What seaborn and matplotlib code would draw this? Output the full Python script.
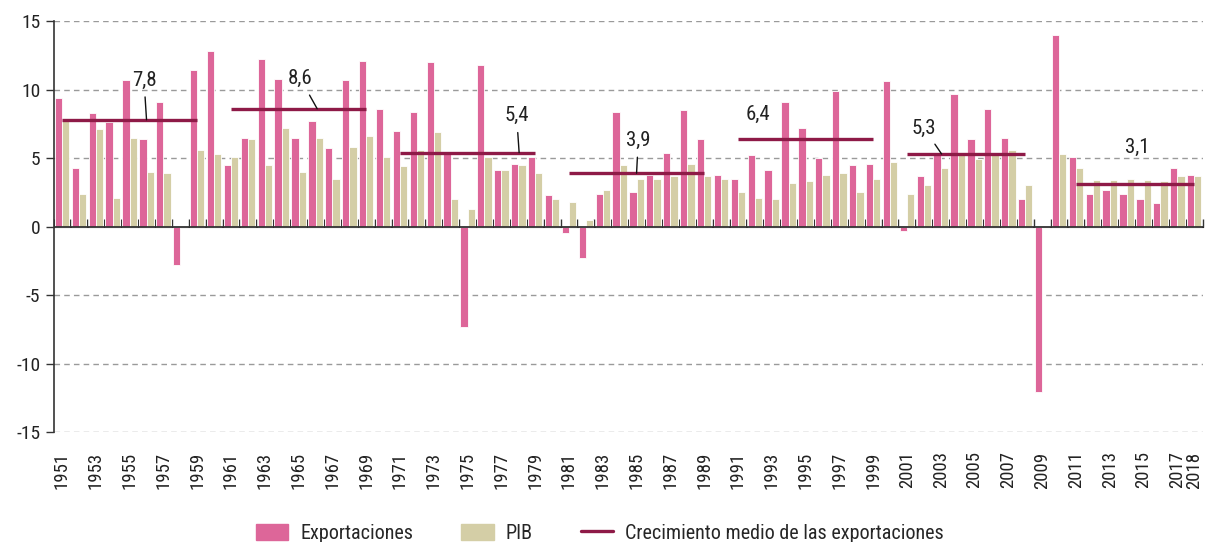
import numpy as np
import pandas as pd
import matplotlib
matplotlib.use("Agg")
import matplotlib.pyplot as plt
import seaborn as sns
from matplotlib import font_manager
from matplotlib.patches import Patch
from matplotlib.lines import Line2D

# data
years = list(range(1951, 2019))
exportaciones = [
    9.4, 4.3, 8.3, 7.6, 10.7, 6.4, 9.1, -2.8, 11.4, 12.8,   # 1951-1960
    4.5, 6.5, 12.2, 10.8, 6.5, 7.7, 5.7, 10.7, 12.1, 8.6,   # 1961-1970
    7.0, 8.4, 12.0, 5.3, -7.3, 11.8, 4.1, 4.6, 5.1, 2.3,    # 1971-1980
    -0.5, -2.3, 2.4, 8.4, 2.5, 3.8, 5.4, 8.5, 6.4, 3.8,     # 1981-1990
    3.5, 5.2, 4.1, 9.1, 7.2, 5.0, 9.9, 4.5, 4.6, 10.6,      # 1991-2000
    -0.3, 3.7, 5.2, 9.7, 6.4, 8.6, 6.5, 2.0, -12.1, 14.0,   # 2001-2010
    5.1, 2.4, 2.7, 2.4, 2.0, 1.7, 4.3, 3.8,                 # 2011-2018
]
pib = [
    7.7, 2.4, 7.1, 2.1, 6.5, 4.0, 3.9, 0.0, 5.6, 5.3,
    5.1, 6.4, 4.5, 7.2, 4.0, 6.5, 3.5, 5.8, 6.6, 5.1,
    4.4, 5.6, 6.9, 2.0, 1.3, 5.1, 4.1, 4.5, 3.9, 2.0,
    1.8, 0.5, 2.7, 4.5, 3.5, 3.5, 3.7, 4.6, 3.7, 3.5,
    2.5, 2.1, 2.0, 3.2, 3.3, 3.8, 3.9, 2.5, 3.5, 4.7,
    2.4, 3.0, 4.3, 5.3, 4.9, 5.4, 5.6, 3.0, -0.1, 5.3,
    4.3, 3.4, 3.4, 3.5, 3.4, 3.3, 3.7, 3.7,
]
periodo_inicio = [1951, 1961, 1971, 1981, 1991, 2001, 2011]
periodo_fin = [1959, 1969, 1979, 1989, 1999, 2008, 2018]
crecimiento_medio = [7.8, 8.6, 5.4, 3.9, 6.4, 5.3, 3.1]
etiquetas_medias = ["7,8", "8,6", "5,4", "3,9", "6,4", "5,3", "3,1"]

# label placement (text position, leader end) in axis units
label_pos = [(4.85, 10.7), (14.1, 10.8), (26.9, 8.1), (34.1, 6.3),
             (41.2, 8.2), (51.0, 7.2), (63.6, 5.8)]
leader_end = [(5.0, 7.8), (15.1, 8.6), (27.05, 5.4), (34.0, 3.9),
              None, (52.05, 5.3), None]

PINK = "#DD6699"
KHAKI = "#D4CEA6"
WINE = "#8E1A47"

sns.set_style("white")
available = {f.name for f in font_manager.fontManager.ttflist}
fam = [f for f in ["Liberation Sans Narrow", "Roboto Condensed", "Roboto"] if f in available]
plt.rcParams["font.family"] = fam + ["DejaVu Sans"]
plt.rcParams["font.size"] = 13

df = pd.DataFrame({
    "year": [str(y) for y in years] * 2,
    "valor": exportaciones + pib,
    "serie": ["Exportaciones"] * len(years) + ["PIB"] * len(years),
})

fig = plt.figure(figsize=(12.07, 5.42), dpi=100)
ax = fig.add_axes([0.0444, 0.203, 0.952, 0.758])

sns.barplot(data=df, x="year", y="valor", hue="serie", order=[str(y) for y in years],
            palette={"Exportaciones": PINK, "PIB": KHAKI}, saturation=1, width=0.86,
            edgecolor="white", linewidth=0.6, errorbar=None, legend=False, ax=ax)

ax.set_ylim(-15, 15)
ax.set_xlim(-0.5, len(years) - 0.5)
ax.set_yticks([-15, -10, -5, 0, 5, 10, 15])
ax.set_yticklabels(["-15", "-10", "-5", "0", "5", "10", "15"])
for v in [-15, -10, -5, 5, 10, 15]:
    ax.axhline(v, color="#9a9a9a", lw=1, ls=(0, (4, 3)), zorder=0)
ax.axhline(0, color="#333333", lw=1.3, zorder=3)

# average growth by decade
xs = [years.index(y) for y in periodo_inicio]
xe = [years.index(y) for y in periodo_fin]
ax.hlines(crecimiento_medio, xs, xe, color=WINE, lw=2.4, zorder=4)
for lab, (tx, ty), end in zip(etiquetas_medias, label_pos, leader_end):
    if end is None:
        ax.text(tx, ty, lab, ha="center", va="center", fontsize=15, color="#222222", zorder=5)
    else:
        ax.annotate(lab, xy=end, xytext=(tx, ty), ha="center", va="center",
                    fontsize=15, color="#222222", zorder=5,
                    arrowprops=dict(arrowstyle="-", color="#111111", lw=1,
                                    shrinkA=3, shrinkB=0))

# x labels: odd years plus last year
ticks = [i for i, y in enumerate(years) if y % 2 == 1] + [len(years) - 1]
ax.set_xticks(ticks)
ax.set_xticklabels([str(years[i]) for i in ticks], rotation=90)
ax.tick_params(axis="x", length=0, pad=14, labelsize=13.5, colors="#222222")
ax.tick_params(axis="y", length=6, width=1, color="#333333", labelsize=14,
               labelcolor="#222222", direction="out", left=True)
ax.set_xlabel("")
ax.set_ylabel("")
for s in ["top", "right", "bottom"]:
    ax.spines[s].set_visible(False)
ax.spines["left"].set_color("#333333")
ax.spines["left"].set_linewidth(1.2)

# tick marks along the zero line at category boundaries
sec = ax.secondary_xaxis(0.5)
sec.set_xticks(np.arange(len(years) + 1) - 0.5)
sec.set_xticklabels([])
sec.tick_params(length=6, width=1, color="#333333", direction="out")
sec.spines["bottom"].set_visible(False)

handles = [Patch(color=PINK), Patch(color=KHAKI), Line2D([], [], color=WINE, lw=2.4)]
labels = ["Exportaciones", "PIB", "Crecimiento medio de las exportaciones"]
fig.legend(handles, labels, loc="lower center", bbox_to_anchor=(0.497, -0.035), ncol=3,
           frameon=False, fontsize=14.5, handlelength=1.6, handleheight=0.9,
           handletextpad=0.6, columnspacing=2.4)

fig.savefig("out.png", dpi=100)
